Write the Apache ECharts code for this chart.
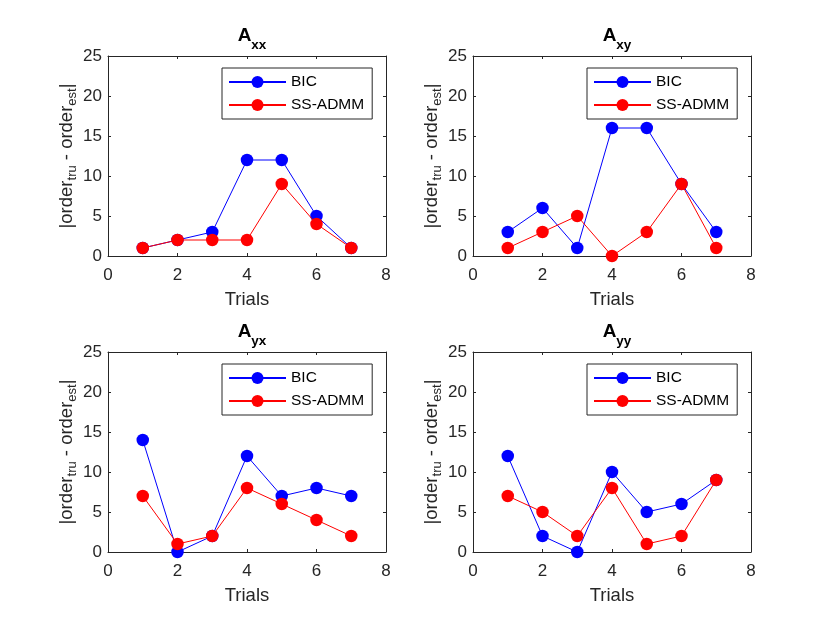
<!DOCTYPE html>
<html>
<head>
<meta charset="utf-8">
<script src="https://cdn.jsdelivr.net/npm/echarts@6/dist/echarts.min.js"></script>
<style>
  html, body { margin: 0; padding: 0; background: #fff; }
  #chart { width: 830px; height: 623px; }
</style>
</head>
<body>
<div id="chart"></div>
<script>
// Data
const trials = [1, 2, 3, 4, 5, 6, 7];
const panelSubs = ['xx', 'xy', 'yx', 'yy'];
const seriesNames = ['BIC', 'SS-ADMM'];

const bicAxx = [1, 2, 3, 12, 12, 5, 1];
const admmAxx = [1, 2, 2, 2, 9, 4, 1];
const bicAxy = [3, 6, 1, 16, 16, 9, 3];
const admmAxy = [1, 3, 5, 0, 3, 9, 1];
const bicAyx = [14, 0, 2, 12, 7, 8, 7];
const admmAyx = [7, 1, 2, 8, 6, 4, 2];
const bicAyy = [12, 2, 0, 10, 5, 6, 9];
const admmAyy = [7, 5, 2, 8, 1, 2, 9];

const panelData = [
    [bicAxx, admmAxx],
    [bicAxy, admmAxy],
    [bicAyx, admmAyx],
    [bicAyy, admmAyy]
];

// Layout
const FONT = '"Liberation Sans", Arial, Helvetica, sans-serif';
const AX = '#262626';
const colors = ['#0000ff', '#ff0000'];
const gridW = 278, gridH = 200;
const lefts = [108, 473];
const tops = [56, 352];

const chart = echarts.init(document.getElementById('chart'));

const grids = [], xAxes = [], yAxes = [], series = [], titles = [], legends = [];

function axisCommon(show, margin) {
    return {
        min: 0,
        axisLine: { show: true, onZero: false, lineStyle: { color: AX, width: 1 } },
        axisTick: { show: true, inside: true, length: 3, lineStyle: { color: AX } },
        splitLine: { show: false },
        axisLabel: { show: show, color: AX, fontFamily: FONT, fontSize: 17, margin: margin || 8 }
    };
}

panelData.forEach((pair, i) => {
    const left = lefts[i % 2];
    const top = tops[Math.floor(i / 2)];
    grids.push({ left: left, top: top, width: gridW, height: gridH, containLabel: false });

    // bottom / left axes carry the labels, top / right mirror the box
    xAxes.push(Object.assign(axisCommon(true, 11), {
        type: 'value', gridIndex: i, position: 'bottom', max: 8, interval: 2,
        name: 'Trials', nameLocation: 'middle', nameGap: 34,
        nameTextStyle: { color: AX, fontFamily: FONT, fontSize: 18.5 }
    }));
    xAxes.push(Object.assign(axisCommon(false), {
        type: 'value', gridIndex: i, position: 'top', max: 8, interval: 2
    }));

    yAxes.push(Object.assign(axisCommon(true, 6), {
        type: 'value', gridIndex: i, position: 'left', max: 25, interval: 5,
        name: '|order{s|tru} - order{s|est}|', nameLocation: 'middle', nameGap: 33,
        nameRotate: 90,
        nameTextStyle: {
            color: AX, fontFamily: FONT, fontSize: 18.5, verticalAlign: 'top',
            rich: { s: { color: AX, fontFamily: FONT, fontSize: 13, verticalAlign: 'top', padding: [12, 0, 0, 0] } }
        }
    }));
    yAxes.push(Object.assign(axisCommon(false), {
        type: 'value', gridIndex: i, position: 'right', max: 25, interval: 5
    }));

    titles.push({
        text: '{a|A}{s|' + panelSubs[i] + '}',
        left: left + gridW / 2, top: top - 35, textAlign: 'center',
        textStyle: {
            rich: {
                a: { color: '#000', fontFamily: FONT, fontWeight: 'bold', fontSize: 19, verticalAlign: 'top' },
                s: { color: '#000', fontFamily: FONT, fontWeight: 'bold', fontSize: 13.5, verticalAlign: 'top', padding: [12, 0, 0, 0] }
            }
        }
    });

    legends.push({
        data: seriesNames,
        orient: 'vertical',
        left: left + 114, top: top + 12,
        backgroundColor: '#fff',
        borderColor: AX, borderWidth: 1,
        padding: [6, 8, 6, 6],
        itemWidth: 57, itemHeight: 15, itemGap: 7,
        selectedMode: false,
        textStyle: { color: '#000', fontFamily: FONT, fontSize: 15.5 }
    });

    pair.forEach((vals, k) => {
        series.push({
            name: seriesNames[k],
            type: 'line',
            xAxisIndex: 2 * i, yAxisIndex: 2 * i,
            data: trials.map((t, j) => [t, vals[j]]),
            symbol: 'circle', symbolSize: 12.5,
            lineStyle: { color: colors[k], width: 1 },
            itemStyle: { color: colors[k] },
            clip: false,
            z: 2 + k,
            animation: false
        });
    });
});

chart.setOption({
    backgroundColor: '#fff',
    animation: false,
    title: titles,
    legend: legends,
    grid: grids,
    xAxis: xAxes,
    yAxis: yAxes,
    series: series
});
</script>
</body>
</html>
